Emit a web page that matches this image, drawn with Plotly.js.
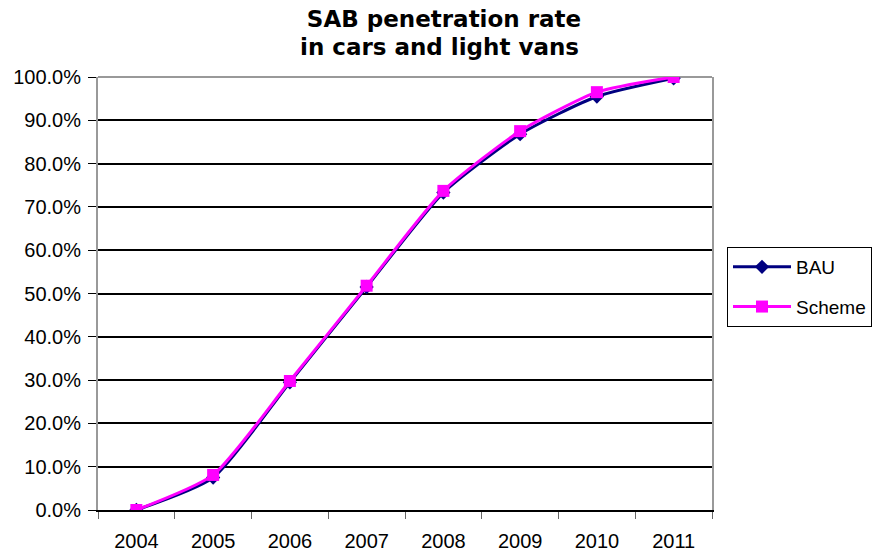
<!DOCTYPE html>
<html>
<head>
<meta charset="utf-8">
<script src="https://cdn.plot.ly/plotly-3.0.1.min.js"></script>
<style>html,body{margin:0;padding:0;background:#fff;}#chart{width:872px;height:554px;}</style>
</head>
<body>
<div id="chart"></div>
<script>
const years = ["2004","2005","2006","2007","2008","2009","2010","2011"];
const bau = [0.0, 0.075, 0.295, 0.515, 0.733, 0.868, 0.955, 0.997];
const scheme = [0.0, 0.081, 0.298, 0.518, 0.737, 0.875, 0.965, 1.0];
const titleLine1 = "SAB penetration rate";
const titleLine2 = "in cars and light vans";

const titleFont = {family: "DejaVu Sans, Liberation Sans, Arial, sans-serif", size: 23, color: "#000", weight: "bold"};

const traces = [
  {x: years, y: bau, name: "BAU", type: "scatter", mode: "lines+markers",
   legendgroup: "a",
   line: {color: "#000080", width: 3, shape: "spline", smoothing: 0.6},
   marker: {symbol: "diamond", size: 11, color: "#000080"}},
  {x: years, y: scheme, name: "Scheme", type: "scatter", mode: "lines+markers",
   legendgroup: "b",
   line: {color: "#FF00FF", width: 3, shape: "spline", smoothing: 0.6},
   marker: {symbol: "square", size: 12, color: "#FF00FF"}}
];

const layout = {
  width: 872, height: 554,
  margin: {l: 98, r: 160, t: 77, b: 44},
  paper_bgcolor: "#fff", plot_bgcolor: "#fff",
  font: {family: "Liberation Sans, Arial, sans-serif", size: 20, color: "#000"},
  title: {text: titleLine1, x: 444/872, xanchor: "center", y: 1 - 19/554, yanchor: "middle",
          font: titleFont},
  annotations: [{text: titleLine2, xref: "paper", yref: "paper", x: (439-98)/614, xanchor: "center",
                 y: (510-47)/433, yanchor: "middle", showarrow: false, font: titleFont}],
  showlegend: true,
  legend: {xref: "container", yref: "container", x: 727/872, xanchor: "left", y: 1 - 247/554, yanchor: "top",
           bordercolor: "#000", borderwidth: 1, bgcolor: "#fff",
           traceorder: "grouped", tracegroupgap: 12, itemwidth: 58,
           font: {size: 19}},
  xaxis: {type: "category", range: [-0.5, 7.5], showgrid: false, automargin: false,
          showline: true, linecolor: "#000", linewidth: 2,
          ticks: "outside", tickson: "boundaries", ticklen: 7, tickcolor: "#666", tickwidth: 1,
          ticklabelstandoff: 12,
          tickfont: {size: 20}, fixedrange: true},
  yaxis: {range: [0, 1], dtick: 0.1, tickformat: ".1%", automargin: false,
          showgrid: true, gridcolor: "#000", gridwidth: 2,
          showline: true, mirror: true, linecolor: "#999", linewidth: 2,
          ticks: "outside", ticklen: 8, tickcolor: "#000", tickwidth: 1,
          ticklabelstandoff: 3,
          tickfont: {size: 20}, zeroline: false, fixedrange: true},
  shapes: [{type: "line", xref: "paper", yref: "paper", x0: 0, x1: 1, y0: 1, y1: 1,
            line: {color: "#999", width: 2}, layer: "between"}]
};

Plotly.newPlot("chart", traces, layout, {displayModeBar: false, staticPlot: true});
</script>
</body>
</html>
